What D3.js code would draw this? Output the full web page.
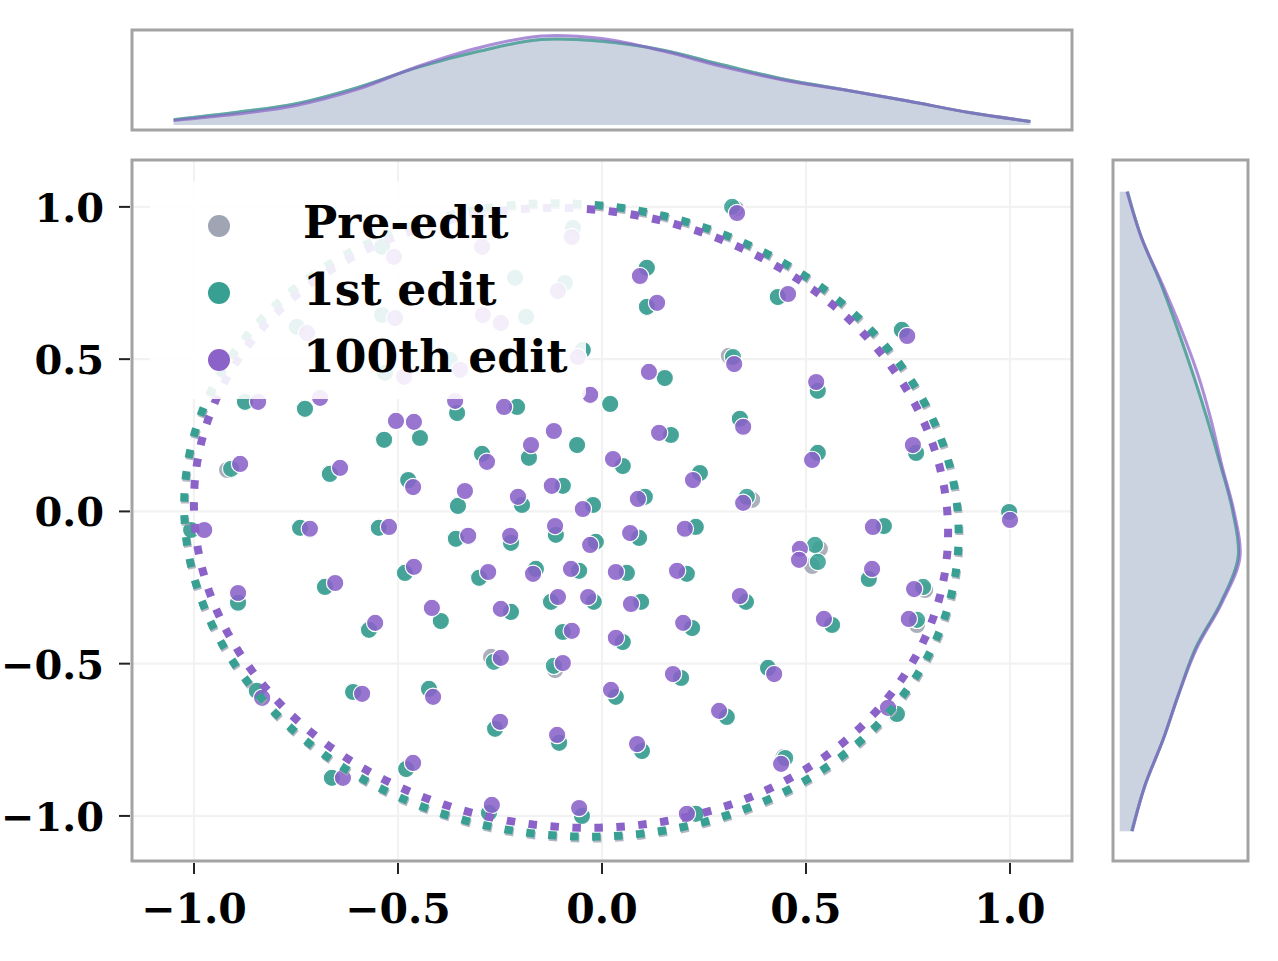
<!DOCTYPE html>
<html><head><meta charset="utf-8">
<script src="https://cdn.jsdelivr.net/npm/d3@7"></script>
<style>body{margin:0;background:#fff}svg{display:block}</style>
</head><body><svg id="c" width="1278" height="961"></svg>
<script>
// ---------------- data ----------------
const seriesNames = ["Pre-edit", "1st edit", "100th edit"];
const tickValues = [-1.0, -0.5, 0.0, 0.5, 1.0];
const tickLabels = ["\u22121.0", "\u22120.5", "0.0", "0.5", "1.0"];

const firstEdit = [
[0.319,1.000],[0.110,0.800],[0.110,0.672],[0.321,0.507],[0.154,0.438],[0.020,0.353],[-0.047,0.530],[0.431,0.704],[0.735,0.596],[0.529,0.396],
[-0.875,0.360],[-0.728,0.337],[-0.534,0.235],[-0.446,0.241],[-0.909,0.140],[-0.667,0.123],[-0.475,0.103],[-1.007,-0.061],[-0.740,-0.054],[-0.547,-0.054],
[-0.483,-0.202],[-0.679,-0.248],[-0.892,-0.300],[-0.395,-0.360],[-0.571,-0.389],[-0.355,0.323],[-0.208,0.343],[0.338,0.304],[-0.061,0.218],[-0.179,0.176],
[-0.294,0.189],[0.169,0.251],[0.051,0.149],[0.240,0.126],[-0.353,0.018],[-0.196,0.021],[-0.096,0.084],[-0.022,0.021],[0.105,0.048],[0.355,0.048],
[-0.358,-0.090],[-0.223,-0.103],[-0.113,-0.077],[-0.015,-0.100],[0.091,-0.087],[0.230,-0.051],[-0.301,-0.218],[-0.162,-0.189],[-0.056,-0.195],[0.061,-0.202],
[0.208,-0.205],[-0.125,-0.297],[-0.223,-0.330],[-0.020,-0.297],[0.096,-0.297],[0.353,-0.297],[0.221,-0.383],[-0.096,-0.396],[0.529,0.192],[0.770,0.192],
[0.998,-0.002],[0.691,-0.048],[0.522,-0.110],[0.529,-0.166],[0.654,-0.222],[0.787,-0.248],[0.564,-0.373],[0.772,-0.356],[-0.610,-0.593],[-0.424,-0.583],
[-0.846,-0.589],[-0.662,-0.875],[-0.480,-0.846],[0.051,-0.429],[-0.265,-0.494],[-0.118,-0.507],[0.194,-0.547],[0.034,-0.609],[0.306,-0.675],[-0.262,-0.714],
[-0.105,-0.760],[0.098,-0.787],[-0.277,-0.990],[-0.049,-1.000],[0.230,-0.993],[0.407,-0.514],[0.723,-0.665],[0.449,-0.810],
[-0.539,0.869],[-0.539,0.645],[-0.748,0.606],[-0.532,0.455],[-0.071,0.931],[-0.213,0.767],[-0.091,0.750],[-0.186,0.639],[-0.373,0.498]
];

const hundredthEdit = [
[0.331,0.980],[0.093,0.773],[0.135,0.685],[0.324,0.484],[0.115,0.458],[-0.029,0.383],[-0.059,0.507],[0.456,0.714],[0.748,0.576],[0.525,0.425],
[-0.843,0.360],[-0.691,0.373],[-0.505,0.297],[-0.461,0.294],[-0.887,0.156],[-0.642,0.143],[-0.463,0.080],[-0.975,-0.061],[-0.716,-0.057],[-0.522,-0.051],
[-0.461,-0.182],[-0.654,-0.235],[-0.892,-0.268],[-0.417,-0.317],[-0.556,-0.366],[-0.360,0.363],[-0.240,0.343],[0.346,0.278],[-0.118,0.264],[-0.174,0.218],
[-0.282,0.163],[0.140,0.258],[0.027,0.172],[0.223,0.103],[-0.336,0.067],[-0.206,0.048],[-0.123,0.084],[-0.047,0.008],[0.088,0.041],[0.346,0.028],
[-0.328,-0.080],[-0.225,-0.080],[-0.115,-0.048],[-0.029,-0.110],[0.069,-0.071],[0.203,-0.057],[-0.279,-0.199],[-0.169,-0.205],[-0.076,-0.189],[0.034,-0.199],
[0.184,-0.195],[-0.108,-0.281],[-0.248,-0.320],[-0.034,-0.281],[0.071,-0.304],[0.338,-0.278],[0.199,-0.366],[-0.074,-0.392],[0.515,0.169],[0.762,0.218],
[1.000,-0.028],[0.664,-0.051],[0.485,-0.123],[0.483,-0.159],[0.662,-0.189],[0.765,-0.255],[0.544,-0.353],[0.752,-0.353],[-0.588,-0.599],[-0.414,-0.609],
[-0.833,-0.612],[-0.635,-0.875],[-0.463,-0.826],[0.034,-0.415],[-0.248,-0.481],[-0.096,-0.498],[0.174,-0.534],[0.022,-0.586],[0.287,-0.655],[-0.250,-0.691],
[-0.110,-0.734],[0.086,-0.764],[-0.270,-0.964],[-0.056,-0.974],[0.208,-0.993],[0.422,-0.534],[0.701,-0.645],[0.439,-0.829],
[-0.510,0.836],[-0.507,0.635],[-0.723,0.586],[-0.485,0.442],[-0.074,0.901],[-0.294,0.869],[-0.108,0.724],[-0.292,0.645],[-0.248,0.619],[-0.348,0.465]
];

const preEdit = [
[0.328,0.995],[0.108,0.802],[0.112,0.670],[0.311,0.511],[0.152,0.440],[0.022,0.351],[-0.049,0.532],[0.429,0.706],[0.733,0.598],[0.527,0.398],
[-0.877,0.362],[-0.730,0.339],[-0.536,0.237],[-0.448,0.243],[-0.919,0.136],[-0.669,0.125],[-0.477,0.105],[-1.009,-0.059],[-0.742,-0.052],[-0.549,-0.052],
[-0.485,-0.200],[-0.681,-0.246],[-0.894,-0.298],[-0.397,-0.358],[-0.573,-0.387],[-0.357,0.325],[-0.210,0.345],[0.336,0.306],[-0.063,0.220],[-0.181,0.178],
[-0.296,0.191],[0.167,0.253],[0.049,0.151],[0.238,0.128],[-0.355,0.020],[-0.198,0.023],[-0.098,0.086],[-0.024,0.023],[0.103,0.050],[0.368,0.038],
[-0.360,-0.088],[-0.225,-0.101],[-0.115,-0.075],[-0.017,-0.098],[0.089,-0.085],[0.228,-0.049],[-0.303,-0.216],[-0.164,-0.187],[-0.058,-0.193],[0.059,-0.200],
[0.206,-0.203],[-0.127,-0.295],[-0.225,-0.328],[-0.022,-0.295],[0.094,-0.295],[0.351,-0.295],[0.219,-0.381],[-0.098,-0.394],[0.527,0.194],[0.768,0.194],
[0.996,0.000],[0.689,-0.046],[0.534,-0.123],[0.515,-0.179],[0.652,-0.220],[0.792,-0.258],[0.562,-0.371],[0.772,-0.373],[-0.612,-0.591],[-0.426,-0.581],
[-0.848,-0.587],[-0.664,-0.873],[-0.482,-0.844],[0.049,-0.427],[-0.272,-0.478],[-0.115,-0.521],[0.192,-0.545],[0.032,-0.607],[0.304,-0.673],[-0.264,-0.712],
[-0.107,-0.758],[0.096,-0.785],[-0.279,-0.988],[-0.051,-0.998],[0.228,-0.991],[0.405,-0.512],[0.721,-0.669],[0.445,-0.806],
[-0.541,0.871],[-0.541,0.647],[-0.750,0.608],[-0.534,0.457],[-0.073,0.933],[-0.215,0.769],[-0.093,0.752],[-0.188,0.641],[-0.375,0.500]
];

// fitted boundary ellipses (data units): centre, semi-axes, rotation in degrees
const ellipseCX = [-0.073, -0.075, -0.076];
const ellipseCY = [-0.034, -0.028, -0.021];
const ellipseRX = [0.944, 0.944, 0.919];
const ellipseRY = [1.045, 1.045, 1.023];
const ellipseAngle = [12.85, 12.85, 12.85];

// marginal densities (relative to the tallest curve)
const densityGrid = [-1.05, -0.9, -0.75, -0.6, -0.45, -0.3, -0.15, 0, 0.15, 0.3, 0.45, 0.6, 0.75, 0.9, 1.05];
const densityXPre   = [0.06, 0.14, 0.24, 0.42, 0.65, 0.83, 0.96, 0.94, 0.84, 0.67, 0.51, 0.39, 0.27, 0.14, 0.04];
const densityXFirst = [0.06, 0.14, 0.24, 0.42, 0.65, 0.83, 0.96, 0.94, 0.84, 0.67, 0.51, 0.39, 0.27, 0.14, 0.04];
const densityXHundredth = [0.05, 0.12, 0.22, 0.40, 0.66, 0.87, 1.00, 0.97, 0.83, 0.65, 0.50, 0.39, 0.27, 0.14, 0.04];
const densityYPre   = [0.10, 0.21, 0.36, 0.49, 0.63, 0.84, 0.985, 0.94, 0.84, 0.73, 0.61, 0.48, 0.34, 0.18, 0.065];
const densityYFirst = [0.10, 0.21, 0.36, 0.49, 0.63, 0.84, 0.985, 0.94, 0.84, 0.73, 0.61, 0.48, 0.34, 0.18, 0.065];
const densityYHundredth = [0.105, 0.21, 0.36, 0.49, 0.64, 0.85, 1.00, 0.95, 0.85, 0.76, 0.65, 0.51, 0.35, 0.18, 0.06];

// ---------------- styling / layout ----------------
const colors = ["#a0a5b4", "#38a093", "#8a62c8"];
const allSeries = [preEdit, firstEdit, hundredthEdit];
const densX = [densityXPre, densityXFirst, densityXHundredth];
const densY = [densityYPre, densityYFirst, densityYHundredth];
const main = {l: 132, r: 1072, t: 160, b: 861};
const topM = {l: 132, r: 1072, t: 30, b: 130};
const rightM = {l: 1113, r: 1248, t: 160, b: 861};
const FONT = "'DejaVu Serif', serif";
const spineColor = "#a3a3a3";

const svg = d3.select("#c");
const x = d3.scaleLinear().domain([-1.152, 1.152]).range([main.l, main.r]);
const y = d3.scaleLinear().domain([-1.148, 1.154]).range([main.b, main.t]);

const defs = svg.append("defs");
defs.append("clipPath").attr("id", "clipMain").append("rect")
  .attr("x", main.l).attr("y", main.t).attr("width", main.r - main.l).attr("height", main.b - main.t);

// grid
const grid = svg.append("g").attr("clip-path", "url(#clipMain)");
grid.selectAll("line.gx").data(tickValues).join("line")
  .attr("x1", d => x(d)).attr("x2", d => x(d)).attr("y1", main.t).attr("y2", main.b)
  .attr("stroke", "#f2f2f2").attr("stroke-width", 2.2);
grid.selectAll("line.gy").data(tickValues).join("line")
  .attr("y1", d => y(d)).attr("y2", d => y(d)).attr("x1", main.l).attr("x2", main.r)
  .attr("stroke", "#f2f2f2").attr("stroke-width", 2.2);

// points
const pts = svg.append("g").attr("clip-path", "url(#clipMain)");
allSeries.forEach((s, i) => {
  pts.append("g").selectAll("circle").data(s).join("circle")
    .attr("cx", d => x(d[0])).attr("cy", d => y(d[1])).attr("r", 8.7)
    .attr("fill", colors[i]).attr("fill-opacity", 0.88)
    .attr("stroke", "#fff").attr("stroke-width", 1.2);
});

// ellipses
const tSteps = d3.range(0, 361, 2);
const ellLine = d3.line().x(d => x(d[0])).y(d => y(d[1]));
allSeries.forEach((s, i) => {
  const phi = ellipseAngle[i] * Math.PI / 180;
  const pathPts = tSteps.map(tdeg => {
    const t = (tdeg + 90) * Math.PI / 180;
    const a = ellipseRX[i] * Math.cos(t), b = ellipseRY[i] * Math.sin(t);
    return [ellipseCX[i] + a * Math.cos(phi) - b * Math.sin(phi),
            ellipseCY[i] + a * Math.sin(phi) + b * Math.cos(phi)];
  });
  pts.append("path").attr("d", ellLine(pathPts))
    .attr("fill", "none").attr("stroke", colors[i]).attr("stroke-width", 8)
    .attr("stroke-dasharray", "8.5,13.5").attr("stroke-opacity", i === 0 ? 0.8 : 1);
});

// marginal densities
const yTop = d3.scaleLinear().domain([-0.0557, 1.0665]).range([topM.b, topM.t]);
const xRight = d3.scaleLinear().domain([-0.0557, 1.0665]).range([rightM.l, rightM.r]);
const curve = d3.curveCatmullRom.alpha(0.5);

const gTop = svg.append("g");
densX.forEach((dv, i) => {
  const pairs = densityGrid.map((g, k) => [g, dv[k]]);
  gTop.append("path").attr("d", d3.area().x(d => x(d[0])).y0(yTop(0)).y1(d => yTop(d[1])).curve(curve)(pairs))
    .attr("fill", colors[i]).attr("fill-opacity", 0.14);
});
densX.forEach((dv, i) => {
  const pairs = densityGrid.map((g, k) => [g, dv[k]]);
  gTop.append("path").attr("d", d3.line().x(d => x(d[0])).y(d => yTop(d[1])).curve(curve)(pairs))
    .attr("fill", "none").attr("stroke", colors[i]).attr("stroke-width", 3).attr("stroke-opacity", 0.7);
});
const gRight = svg.append("g");
densY.forEach((dv, i) => {
  const pairs = densityGrid.map((g, k) => [g, dv[k]]);
  gRight.append("path").attr("d", d3.area().y(d => y(d[0])).x0(xRight(0)).x1(d => xRight(d[1])).curve(curve)(pairs))
    .attr("fill", colors[i]).attr("fill-opacity", 0.14);
});
densY.forEach((dv, i) => {
  const pairs = densityGrid.map((g, k) => [g, dv[k]]);
  gRight.append("path").attr("d", d3.line().y(d => y(d[0])).x(d => xRight(d[1])).curve(curve)(pairs))
    .attr("fill", "none").attr("stroke", colors[i]).attr("stroke-width", 3).attr("stroke-opacity", 0.7);
});

// frames
[main, topM, rightM].forEach(m => {
  svg.append("rect").attr("x", m.l).attr("y", m.t).attr("width", m.r - m.l).attr("height", m.b - m.t)
    .attr("fill", "none").attr("stroke", spineColor).attr("stroke-width", 3);
});

// ticks & labels
const ax = svg.append("g");
ax.selectAll("line.tx").data(tickValues).join("line")
  .attr("x1", d => x(d)).attr("x2", d => x(d)).attr("y1", main.b + 2).attr("y2", main.b + 13)
  .attr("stroke", "#222").attr("stroke-width", 2);
ax.selectAll("text.tx").data(tickValues).join("text")
  .attr("x", d => x(d)).attr("y", 923).attr("text-anchor", "middle")
  .attr("font-family", FONT).attr("font-weight", "bold").attr("font-size", 41).attr("fill", "#000")
  .text((d, i) => tickLabels[i]);
ax.selectAll("line.ty").data(tickValues).join("line")
  .attr("y1", d => y(d)).attr("y2", d => y(d)).attr("x1", main.l - 13).attr("x2", main.l - 2)
  .attr("stroke", "#222").attr("stroke-width", 2);
ax.selectAll("text.ty").data(tickValues).join("text")
  .attr("x", 104).attr("y", d => y(d) + 15).attr("text-anchor", "end")
  .attr("font-family", FONT).attr("font-weight", "bold").attr("font-size", 40).attr("fill", "#000")
  .text((d, i) => tickLabels[i]);

// legend
const lg = svg.append("g");
lg.append("rect").attr("x", 150).attr("y", 182).attr("width", 436).attr("height", 217).attr("rx", 6)
  .attr("fill", "#fff").attr("fill-opacity", 0.88);
seriesNames.forEach((n, i) => {
  const yy = 226 + i * 67;
  lg.append("circle").attr("cx", 219).attr("cy", yy).attr("r", 11).attr("fill", colors[i]);
  lg.append("text").attr("x", 303).attr("y", yy + 12).attr("font-family", FONT).attr("font-weight", "bold")
    .attr("font-size", 45.6).attr("fill", "#000").text(n);
});
</script></body></html>
